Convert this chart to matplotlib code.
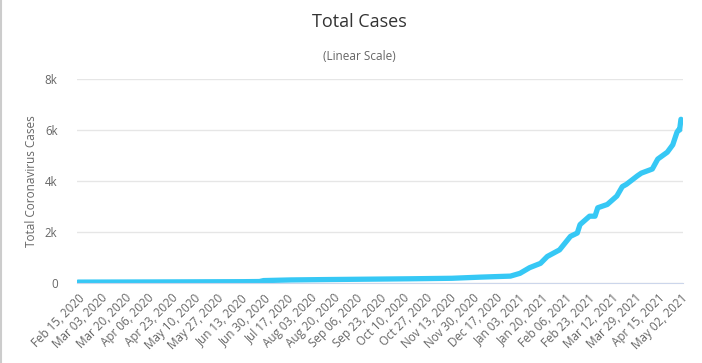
import datetime as dt
from matplotlib import pyplot as plt
from matplotlib.lines import Line2D

# sampled readings of the total case curve
dates = ['2020-02-15', '2020-03-15', '2020-04-15', '2020-05-15', '2020-06-15',
         '2020-06-27', '2020-06-30', '2020-07-20', '2020-08-15', '2020-09-15',
         '2020-10-15', '2020-11-15', '2020-12-06', '2020-12-28', '2021-01-04',
         '2021-01-11', '2021-01-19', '2021-01-24', '2021-02-02', '2021-02-10',
         '2021-02-15', '2021-02-17', '2021-02-24', '2021-02-28', '2021-03-02',
         '2021-03-09', '2021-03-16', '2021-03-20', '2021-03-23', '2021-03-31',
         '2021-04-03', '2021-04-11', '2021-04-15', '2021-04-22', '2021-04-26',
         '2021-04-29', '2021-04-30', '2021-05-01', '2021-05-02']
cases = [35, 38, 42, 47, 52,
         58, 95, 120, 135, 150,
         165, 185, 230, 270, 380,
         600, 770, 1040, 1300, 1830,
         1960, 2290, 2620, 2620, 2950,
         3080, 3410, 3780, 3870, 4200,
         4310, 4470, 4860, 5130, 5420,
         5900, 5990, 6000, 6420]

start = dt.date(2020, 2, 15)
end = dt.date(2021, 5, 2)
days = [(dt.date.fromisoformat(d) - start).days for d in dates]
ndays = (end - start).days

tick_days = list(range(0, ndays + 1, 17))
tick_labels = [(start + dt.timedelta(days=t)).strftime('%b %d, %Y') for t in tick_days]

plt.rcParams['font.family'] = ['Open Sans', 'DejaVu Sans']

fig = plt.figure(figsize=(7.02, 3.63), dpi=100)
ax = fig.add_axes([77 / 702, 1 - 283 / 363, 606 / 702, 204 / 363])

ax.plot(days, cases, color='#36c8f5', lw=3.8, solid_capstyle='round', solid_joinstyle='round')

ax.set_xlim(-0.8, ndays + 1.5)
ax.set_ylim(0, 8000)
ax.set_yticks([0, 2000, 4000, 6000, 8000])
ax.set_yticklabels(['0', '2k', '4k', '6k', '8k'])
ax.set_xticks(tick_days)
ax.set_xticklabels(tick_labels, rotation=45, ha='right', rotation_mode='anchor')

ax.grid(axis='y', color='#e6e6e6', lw=1)
ax.set_axisbelow(True)
for s in ['top', 'right', 'left']:
    ax.spines[s].set_visible(False)
ax.spines['bottom'].set_color('#ccd6eb')
ax.tick_params(axis='y', length=0, pad=14, labelsize=8.3, labelcolor='#666666')
ax.tick_params(axis='x', length=0, pad=6, labelsize=8.4, labelcolor='#666666')

ax.set_ylabel('Total Coronavirus Cases', fontsize=8.5, color='#666666', labelpad=5)

fig.text(0.512, 1 - 22 / 363, 'Total Cases', ha='center', va='center', fontsize=13, color='#333333')
fig.text(0.512, 1 - 56 / 363, '(Linear Scale)', ha='center', va='center', fontsize=8.5, color='#666666')

fig.add_artist(Line2D([0.002, 0.002], [0, 1], transform=fig.transFigure, color='#cccccc', lw=1.5))

fig.savefig('out.png', dpi=100)
